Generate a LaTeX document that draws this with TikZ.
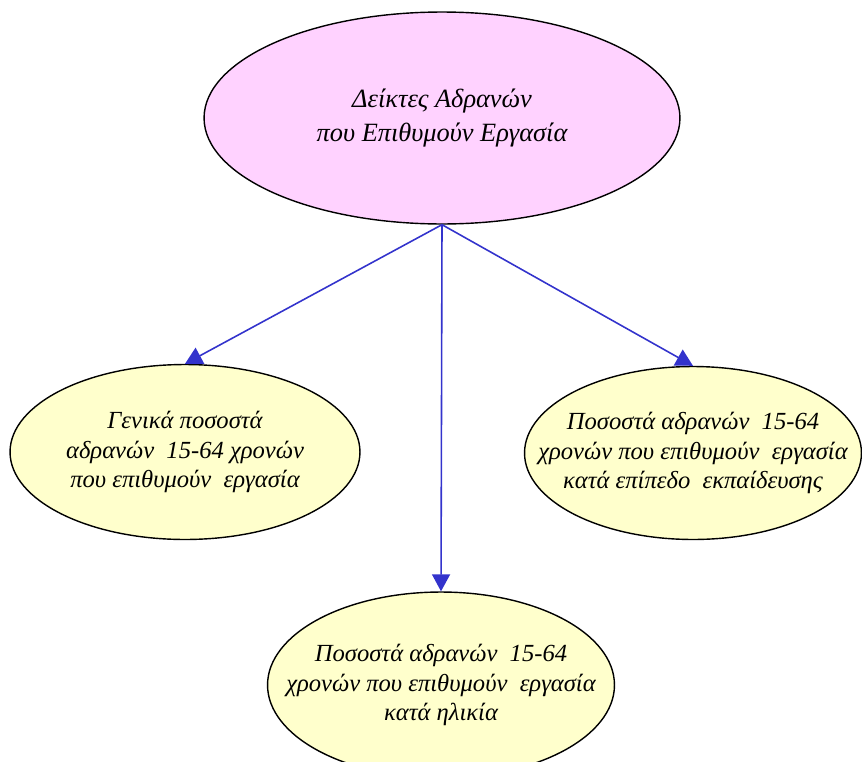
\documentclass[tikz,border=0pt]{standalone}
\usepackage{fontspec}
\setmainfont{Liberation Serif}
\usetikzlibrary{arrows.meta,shapes.geometric}
\definecolor{ink}{RGB}{0,0,0}
\definecolor{rootfill}{RGB}{255,210,255}
\definecolor{leaffill}{RGB}{255,255,204}
\definecolor{link}{RGB}{51,51,204}
\tikzset{
  topic/.style={ellipse,draw=ink,thick,fill=rootfill,inner xsep=-3cm,inner ysep=-2cm,
    align=center,font=\fontsize{15}{19}\selectfont\itshape},
  leaf/.style={ellipse,draw=ink,thick,fill=leaffill,inner xsep=-3cm,inner ysep=-2cm,
    align=center,font=\fontsize{14}{17}\selectfont\itshape},
  arr/.style={-{Triangle[length=3.4mm,width=3.6mm]},link,line width=0.9pt},
}

\begin{document}
\begin{tikzpicture}[x=0.02cm,y=-0.02cm]
  \useasboundingbox (0,0) rectangle (862,761);

  % root
  \node[topic,minimum width=9.52cm,minimum height=4.24cm] (root) at (442,118)
    {Δείκτες Αδρανών\\που Επιθυμούν Εργασία};

  % the three indicators
  \node[leaf,minimum width=7cm,minimum height=3.5cm] (general) at (185,452)
    {Γενικά ποσοστά\\αδρανών \ 15-64 χρονών\\ που επιθυμούν \ εργασία};
  \node[leaf,minimum width=6.74cm,minimum height=3.46cm] (edu) at (693,453)
    {Ποσοστά αδρανών \ 15-64\\χρονών που επιθυμούν \ εργασία\\κατά επίπεδο \ εκπαίδευσης};
  \node[leaf,minimum width=6.94cm,minimum height=3.72cm] (age) at (441,685)
    {Ποσοστά αδρανών \ 15-64\\χρονών που επιθυμούν \ εργασία\\κατά ηλικία};

  \foreach \t in {general,edu,age}
    \draw[arr] (root.south) -- (\t.north);
\end{tikzpicture}
\end{document}
